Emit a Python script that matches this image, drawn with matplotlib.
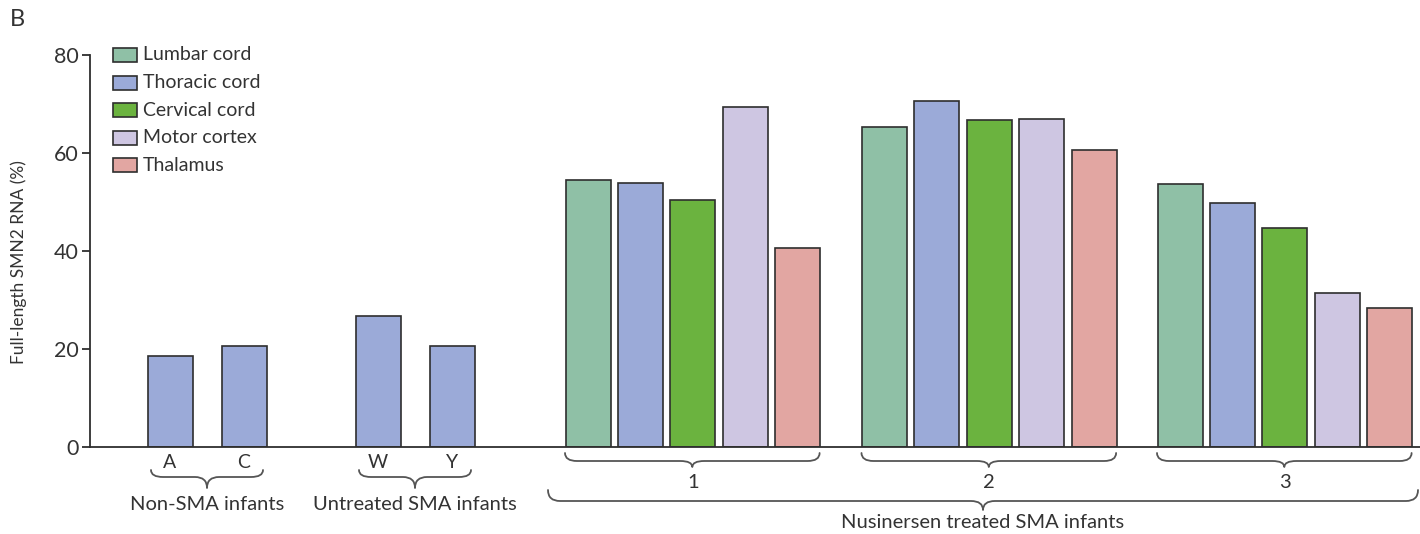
import matplotlib
matplotlib.use("Agg")
import matplotlib.pyplot as plt
from matplotlib.path import Path
from matplotlib.patches import PathPatch, Rectangle

plt.rcParams['font.family'] = ['Lato', 'DejaVu Sans']

# ---- data -------------------------------------------------------------
tissues = ["Lumbar cord", "Thoracic cord", "Cervical cord", "Motor cortex", "Thalamus"]
tissue_colors = ["#8fc0a6", "#9baad8", "#6bb33f", "#cec6e2", "#e2a6a2"]

non_sma_labels = ["A", "C"]
non_sma_values = [18.6, 20.6]
untreated_labels = ["W", "Y"]
untreated_values = [26.7, 20.6]

treated_labels = ["1", "2", "3"]
treated_1 = [54.5, 53.9, 50.4, 69.4, 40.6]
treated_2 = [65.3, 70.6, 66.7, 66.9, 60.6]
treated_3 = [53.7, 49.8, 44.7, 31.4, 28.4]

yticks = [0, 20, 40, 60, 80]

# ---- layout -----------------------------------------------------------
W, H = 1420, 534
fig = plt.figure(figsize=(W / 100, H / 100), dpi=100)
ax_l, ax_r, ax_t, ax_b = 90, 1420, 55, 447
ax = fig.add_axes([ax_l / W, 1 - ax_b / H, (ax_r - ax_l) / W, (ax_b - ax_t) / H])
ax.set_xlim(ax_l, ax_r)
ax.set_ylim(0, 80)

txt = "#333333"
edge = "#2e2e2e"
bar_w = 45
pair_step = 74
slot = 52.4

pair_starts = [170, 378]
treated_starts = [588, 884.5, 1180]

pair_pos = [[s + i * pair_step for i in range(2)] for s in pair_starts]
for pos, vals in zip(pair_pos, [non_sma_values, untreated_values]):
    ax.bar(pos, vals, width=bar_w, color=tissue_colors[1], edgecolor=edge, linewidth=1.2)

treated_pos = [[s + i * slot for i in range(5)] for s in treated_starts]
for pos, vals in zip(treated_pos, [treated_1, treated_2, treated_3]):
    ax.bar(pos, vals, width=bar_w, color=tissue_colors, edgecolor=edge, linewidth=1.2)

for s in ["top", "right"]:
    ax.spines[s].set_visible(False)
for s in ["left", "bottom"]:
    ax.spines[s].set_color(edge)
    ax.spines[s].set_linewidth(1.3)
ax.set_xticks([])
ax.set_yticks(yticks)
ax.tick_params(axis="y", length=6, width=1.3, color=edge, labelsize=15.5, labelcolor=txt, pad=2)
fig.text(19 / W, 1 - 262 / H, "Full-length SMN2 RNA (%)", rotation=90, fontsize=12.5,
         color=txt, ha="center", va="center")


def py(p):
    """pixel row -> data y"""
    return (ax_b - p) / (ax_b - ax_t) * 80


def brace(x0, x1, y_end, y_line, y_tip, lw=1.3):
    xm = (x0 + x1) / 2
    r = min(12, (x1 - x0) / 8)
    ye, yl, yt = py(y_end), py(y_line), py(y_tip)
    verts = [
        (x0, ye), (x0, yl), (x0 + r, yl),
        (xm - r, yl), (xm, yl), (xm, yt),
        (xm, yl), (xm + r, yl),
        (x1 - r, yl), (x1, yl), (x1, ye),
    ]
    codes = [Path.MOVETO, Path.CURVE3, Path.CURVE3,
             Path.LINETO, Path.CURVE3, Path.CURVE3,
             Path.CURVE3, Path.CURVE3,
             Path.LINETO, Path.CURVE3, Path.CURVE3]
    ax.add_patch(PathPatch(Path(verts, codes), fill=False, edgecolor="#555555",
                           lw=lw, clip_on=False, capstyle="round", joinstyle="round"))


# pair labels and braces
for pos, labs, name in zip(pair_pos, [non_sma_labels, untreated_labels],
                           ["Non-SMA infants", "Untreated SMA infants"]):
    for x, l in zip(pos, labs):
        ax.text(x, py(463), l, ha="center", va="center", fontsize=14, color=txt, clip_on=False)
    brace(pos[0] - 19, pos[1] + 19, 470, 477, 488)
    ax.text((pos[0] + pos[1]) / 2, py(505), name, ha="center", va="center",
            fontsize=14.5, color=txt, clip_on=False)

# treated group braces
for pos, lab in zip(treated_pos, treated_labels):
    brace(pos[0] - 23, pos[-1] + 22, 453, 461, 467)
    ax.text((pos[0] + pos[-1]) / 2, py(483), lab, ha="center", va="center",
            fontsize=14.5, color=txt, clip_on=False)

brace(treated_pos[0][0] - 40, 1418, 490, 501, 510)
ax.text((treated_pos[0][0] - 40 + 1418) / 2, py(522), "Nusinersen treated SMA infants",
        ha="center", va="center", fontsize=14.5, color=txt, clip_on=False)

# legend, laid out in pixel rows
for i, (name, c) in enumerate(zip(tissues, tissue_colors)):
    yc = 55 + 27.6 * i
    fig.add_artist(Rectangle((113 / W, 1 - (yc + 7) / H), 24 / W, 14 / H,
                             transform=fig.transFigure, facecolor=c, edgecolor=edge, lw=1.2))
    fig.text(143 / W, 1 - yc / H, name, fontsize=14, color=txt, ha="left", va="center")

fig.text(10 / W, 1 - 20 / H, "B", fontsize=17, color=txt, ha="left", va="center")

fig.savefig("out.png", dpi=100, facecolor="white")
